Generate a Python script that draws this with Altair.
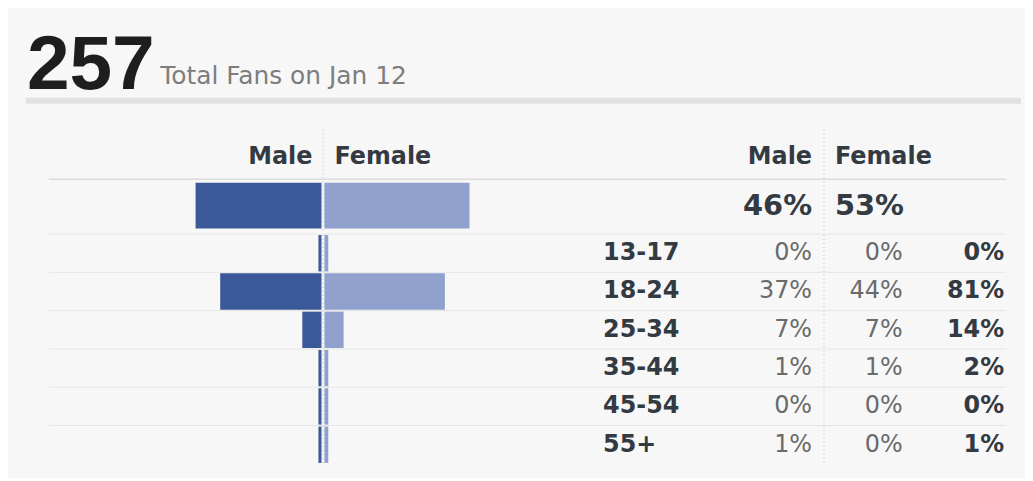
import altair as alt
import pandas as pd

# ---- data ----
total_fans = "257"
subtitle = "Total Fans on Jan 12"
ages = ["13-17", "18-24", "25-34", "35-44", "45-54", "55+"]
male_pct = [0, 37, 7, 1, 0, 1]
female_pct = [0, 44, 7, 1, 0, 0]
overall_label = ["All"]
overall_male = [46]
overall_female = [53]
gender_labels = ["Male", "Female"]

MALE_C = "#3b5998"
FEMALE_C = "#8fa1cc"
FONT = "DejaVu Sans"
DARK = "#333a42"
GREY = "#6a6a6a"

age_df = pd.DataFrame({"age": ages, "male": male_pct, "female": female_pct})
tot_df = pd.DataFrame({"row": overall_label, "male": overall_male, "female": overall_female})
one = pd.DataFrame({"k": [0]})

xscale = alt.Scale(domain=[-100, 100], range=[40, 590])
age_scale = alt.Scale(domain=ages, range=[0, 229], paddingInner=0.05, paddingOuter=0)
tot_scale = alt.Scale(domain=overall_label, range=[170, 223], paddingInner=0, paddingOuter=0.075)

# minimum visible sliver for very small shares
base_age = alt.Chart(age_df).transform_calculate(
    neg="-max(datum.male, 1.1)",
    fbar="max(datum.female, 1.4)",
    mtxt="datum.male + '%'",
    ftxt="datum.female + '%'",
    ttxt="(datum.male + datum.female) + '%'",
)
base_tot = alt.Chart(tot_df).transform_calculate(
    neg="-datum.male",
    fbar="datum.female",
    mtxt="datum.male + '%'",
    ftxt="datum.female + '%'",
)

# ---------- top panel: title, headers, overall row ----------
big = alt.Chart(one).mark_text(
    text=total_fans, font="Liberation Sans", fontWeight="bold", fontSize=77,
    color="#1e1e1e", align="left", baseline="alphabetic"
).encode(x=alt.value(18), y=alt.value(79))
sub = alt.Chart(one).mark_text(
    text=subtitle, font=FONT, fontSize=25, color="#7d7d7d", align="left", baseline="alphabetic"
).encode(x=alt.value(152), y=alt.value(74))
sep = alt.Chart(one).mark_rule(color="#e2e2e2", strokeWidth=6).encode(
    x=alt.value(17), x2=alt.value(1017), y=alt.value(91)
)


def head(text, x, align):
    return alt.Chart(one).mark_text(
        text=text, font=FONT, fontWeight="bold", fontSize=24, color=DARK,
        align=align, baseline="alphabetic"
    ).encode(x=alt.value(x), y=alt.value(155))


headers = [
    head(gender_labels[0], 305, "right"), head(gender_labels[1], 327, "left"),
    head(gender_labels[0], 807, "right"), head(gender_labels[1], 830, "left"),
]

head_line = alt.Chart(one).mark_rule(color="#dcdcdc", strokeWidth=1.5).encode(
    x=alt.value(40), x2=alt.value(1002), y=alt.value(170)
)
div1_top = alt.Chart(one).mark_rule(color="#b8b8b8", strokeDash=[1, 3]).encode(
    x=alt.value(315.5), y=alt.value(120), y2=alt.value(223)
)
div2_top = alt.Chart(one).mark_rule(color="#b8b8b8", strokeDash=[1, 3]).encode(
    x=alt.value(819), y=alt.value(120), y2=alt.value(223)
)

male_tot = base_tot.mark_bar(color=MALE_C, xOffset=-1, x2Offset=-1).encode(
    x=alt.X("neg:Q", scale=xscale, axis=None), x2=alt.datum(0),
    y=alt.Y("row:N", scale=tot_scale, axis=None),
)
fem_tot = base_tot.mark_bar(color=FEMALE_C, xOffset=2, x2Offset=2).encode(
    x=alt.X("fbar:Q", scale=xscale, axis=None), x2=alt.datum(0),
    y=alt.Y("row:N", scale=tot_scale, axis=None),
)
tot_m_txt = base_tot.mark_text(
    font=FONT, fontSize=29, fontWeight="bold", color=DARK, align="right", baseline="middle"
).encode(x=alt.value(807), y=alt.Y("row:N", scale=tot_scale, axis=None), text="mtxt:N")
tot_f_txt = base_tot.mark_text(
    font=FONT, fontSize=29, fontWeight="bold", color=DARK, align="left", baseline="middle"
).encode(x=alt.value(830), y=alt.Y("row:N", scale=tot_scale, axis=None), text="ftxt:N")

top = alt.layer(
    sep, big, sub, *headers, head_line, div1_top, div2_top,
    male_tot, fem_tot, tot_m_txt, tot_f_txt,
).properties(width=1017, height=223)

# ---------- bottom panel: age rows ----------
row_lines = base_age.mark_rule(color="#e6e6e6", strokeWidth=1, yOffset=-1).encode(
    y=alt.Y("age:N", scale=age_scale, axis=None, bandPosition=0),
    x=alt.value(40), x2=alt.value(1002),
)
div1_bot = alt.Chart(one).mark_rule(color="#b8b8b8", strokeDash=[1, 3]).encode(
    x=alt.value(315.5), y=alt.value(0), y2=alt.value(229)
)
div2_bot = alt.Chart(one).mark_rule(color="#b8b8b8", strokeDash=[1, 3]).encode(
    x=alt.value(819), y=alt.value(0), y2=alt.value(229)
)
male_age = base_age.mark_bar(color=MALE_C, xOffset=-1, x2Offset=-1).encode(
    x=alt.X("neg:Q", scale=xscale, axis=None), x2=alt.datum(0),
    y=alt.Y("age:N", scale=age_scale, axis=None),
)
fem_age = base_age.mark_bar(color=FEMALE_C, xOffset=2, x2Offset=2).encode(
    x=alt.X("fbar:Q", scale=xscale, axis=None), x2=alt.datum(0),
    y=alt.Y("age:N", scale=age_scale, axis=None),
)


def age_text(field, x, align, bold, color):
    return base_age.mark_text(
        font=FONT, fontSize=24, fontWeight="bold" if bold else "normal",
        color=color, align=align, baseline="middle"
    ).encode(
        x=alt.value(x), y=alt.Y("age:N", scale=age_scale, axis=None),
        text=alt.Text(field),
    )


age_lbl = age_text("age:N", 597, "left", True, DARK)
m_txt = age_text("mtxt:N", 807, "right", False, GREY)
f_txt = age_text("ftxt:N", 898, "right", False, GREY)
t_txt = age_text("ttxt:N", 1000, "right", True, DARK)

bottom = alt.layer(
    row_lines, div1_bot, div2_bot, male_age, fem_age, age_lbl, m_txt, f_txt, t_txt
).properties(width=1017, height=242)

chart = alt.vconcat(top, bottom, spacing=0).properties(
    padding=0, background="#f7f7f7"
).configure_view(stroke="transparent").configure_concat(spacing=0)

chart.save("out.html", embed_options={"renderer": "svg", "actions": False})
